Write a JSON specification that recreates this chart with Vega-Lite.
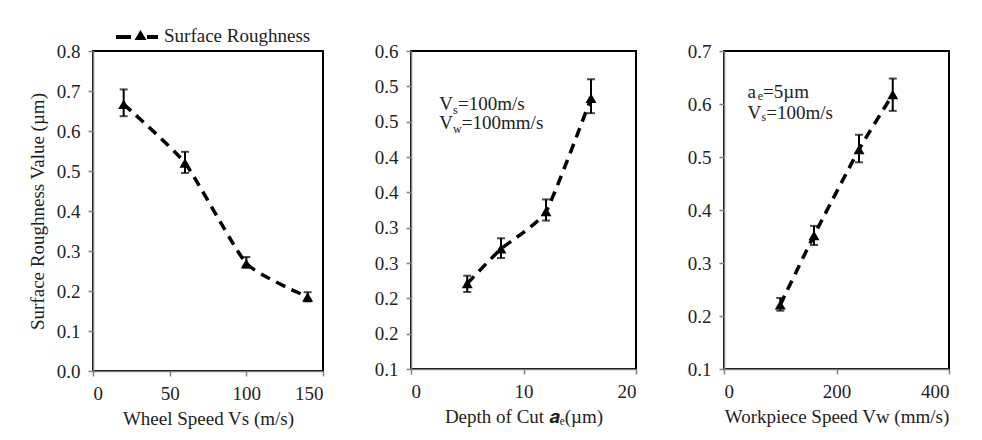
{
  "$schema": "https://vega.github.io/schema/vega-lite/v6.json",
  "background": "white",
  "padding": {"left": 27, "top": 26, "right": 5, "bottom": 5},
  "bounds": "flush",
  "spacing": 88,
  "datasets": {
    "vs": [
      {"x": 20, "v": 0.667, "lo": 0.637, "hi": 0.704},
      {"x": 60, "v": 0.52, "lo": 0.495, "hi": 0.548},
      {"x": 100, "v": 0.269, "lo": 0.258, "hi": 0.285},
      {"x": 140, "v": 0.185, "lo": 0.174, "hi": 0.197}
    ],
    "ae": [
      {"x": 5, "v": 0.221, "lo": 0.209, "hi": 0.232},
      {"x": 8, "v": 0.27, "lo": 0.257, "hi": 0.285},
      {"x": 12, "v": 0.323, "lo": 0.31, "hi": 0.34},
      {"x": 16, "v": 0.483, "lo": 0.462, "hi": 0.51}
    ],
    "vw": [
      {"x": 100, "v": 0.221, "lo": 0.21, "hi": 0.234},
      {"x": 160, "v": 0.352, "lo": 0.334, "hi": 0.37},
      {"x": 240, "v": 0.514, "lo": 0.49, "hi": 0.542},
      {"x": 300, "v": 0.618, "lo": 0.587, "hi": 0.648}
    ],
    "note2main": [
      {"x": 2.51, "v": 0.467, "t": "V"},
      {"x": 4.17, "v": 0.467, "t": "=100m/s"},
      {"x": 2.51, "v": 0.439, "t": "V"},
      {"x": 4.52, "v": 0.439, "t": "=100mm/s"}
    ],
    "note2sub": [
      {"x": 3.73, "v": 0.467, "t": "s"},
      {"x": 3.73, "v": 0.439, "t": "w"}
    ],
    "note3main": [
      {"x": 41.6, "v": 0.612, "t": "a"},
      {"x": 69.5, "v": 0.612, "t": "=5µm"},
      {"x": 41.6, "v": 0.571, "t": "V"},
      {"x": 75, "v": 0.571, "t": "=100m/s"}
    ],
    "note3sub": [
      {"x": 60, "v": 0.612, "t": "e"},
      {"x": 66.5, "v": 0.571, "t": "s"}
    ]
  },
  "hconcat": [
    {
      "width": 230,
      "height": 320,
      "data": {"name": "vs"},
      "encoding": {
        "x": {"field": "x", "type": "quantitative", "scale": {"domain": [0, 150]}, "axis": {"values": [0, 50, 100, 150], "title": "Wheel Speed Vs (m/s)"}},
        "y": {"field": "v", "type": "quantitative", "scale": {"domain": [0, 0.8]}, "axis": {"values": [0, 0.1, 0.2, 0.3, 0.4, 0.5, 0.6, 0.7, 0.8], "format": ".1f", "title": "Surface Roughness Value (µm)"}}
      },
      "layer": [
        {
          "mark": {"type": "line", "color": "black", "strokeWidth": 3.5, "strokeDash": [10, 7], "interpolate": "cardinal", "tension": 0.5}
        },
        {
          "mark": {"type": "errorbar", "color": "black", "thickness": 2, "size": 8, "ticks": true},
          "encoding": {"y": {"field": "lo", "type": "quantitative", "scale": {"domain": [0, 0.8]}, "axis": {"values": [0, 0.1, 0.2, 0.3, 0.4, 0.5, 0.6, 0.7, 0.8], "format": ".1f", "title": "Surface Roughness Value (µm)"}}, "y2": {"field": "hi"}}
        },
        {
          "mark": {"type": "point", "shape": "triangle-up", "filled": true, "size": 120, "opacity": 1},
          "encoding": {
            "color": {"datum": "Surface Roughness", "type": "nominal", "scale": {"range": ["black"]},
              "legend": {"orient": "none", "legendX": 38, "legendY": -25, "title": null, "padding": 0,
                "symbolType": "M-4.9,-0.1H-1.9V0.7H-4.9Z M-1.2,0.9L0,-1.1L1.2,0.9Z M1.3,-0.1H3.5V0.7H1.3Z",
                "symbolSize": 100, "symbolFillColor": "black", "symbolStrokeWidth": 0, "symbolOpacity": 1,
                "labelFont": "Liberation Serif", "labelFontSize": 19, "labelColor": "#222", "labelOffset": 14}}
          }
        }
      ]
    },
    {
      "width": 225,
      "height": 318,
      "encoding": {
        "x": {"field": "x", "type": "quantitative", "scale": {"domain": [0, 20]}, "axis": {"values": [0, 10, 20], "title": "Depth of Cut 𝒂ₑ(µm)"}},
        "y": {"field": "v", "type": "quantitative", "scale": {"domain": [0.1, 0.55]}, "axis": {"values": [0.1, 0.15, 0.2, 0.25, 0.3, 0.35, 0.4, 0.45, 0.5, 0.55], "labelExpr": "format(datum.value + 0.001, '.1f')", "title": null}}
      },
      "layer": [
        {"data": {"name": "ae"}, "mark": {"type": "line", "color": "black", "strokeWidth": 3.5, "strokeDash": [10, 7], "interpolate": "cardinal", "tension": 0.5}},
        {"data": {"name": "ae"}, "mark": {"type": "errorbar", "color": "black", "thickness": 2, "size": 8, "ticks": true},
          "encoding": {"y": {"field": "lo", "type": "quantitative", "scale": {"domain": [0.1, 0.55]}, "axis": {"values": [0.1, 0.15, 0.2, 0.25, 0.3, 0.35, 0.4, 0.45, 0.5, 0.55], "labelExpr": "format(datum.value + 0.001, '.1f')", "title": null}}, "y2": {"field": "hi"}}},
        {"data": {"name": "ae"}, "mark": {"type": "point", "shape": "triangle-up", "filled": true, "size": 120, "opacity": 1, "color": "black"}},
        {"data": {"name": "note2main"}, "mark": {"type": "text", "align": "left", "baseline": "alphabetic", "font": "Liberation Serif", "fontSize": 19, "color": "#222"}, "encoding": {"text": {"field": "t"}}},
        {"data": {"name": "note2sub"}, "mark": {"type": "text", "align": "left", "baseline": "alphabetic", "font": "Liberation Serif", "fontSize": 12, "dy": 4, "color": "#222"}, "encoding": {"text": {"field": "t"}}}
      ]
    },
    {
      "width": 225,
      "height": 318,
      "encoding": {
        "x": {"field": "x", "type": "quantitative", "scale": {"domain": [0, 400]}, "axis": {"values": [0, 200, 400], "title": "Workpiece Speed Vw (mm/s)"}},
        "y": {"field": "v", "type": "quantitative", "scale": {"domain": [0.1, 0.7]}, "axis": {"values": [0.1, 0.2, 0.3, 0.4, 0.5, 0.6, 0.7], "format": ".1f", "title": null}}
      },
      "layer": [
        {"data": {"name": "vw"}, "mark": {"type": "line", "color": "black", "strokeWidth": 3.5, "strokeDash": [10, 7], "interpolate": "cardinal", "tension": 0.5}},
        {"data": {"name": "vw"}, "mark": {"type": "errorbar", "color": "black", "thickness": 2, "size": 8, "ticks": true},
          "encoding": {"y": {"field": "lo", "type": "quantitative", "scale": {"domain": [0.1, 0.7]}, "axis": {"values": [0.1, 0.2, 0.3, 0.4, 0.5, 0.6, 0.7], "format": ".1f", "title": null}}, "y2": {"field": "hi"}}},
        {"data": {"name": "vw"}, "mark": {"type": "point", "shape": "triangle-up", "filled": true, "size": 120, "opacity": 1, "color": "black"}},
        {"data": {"name": "note3main"}, "mark": {"type": "text", "align": "left", "baseline": "alphabetic", "font": "Liberation Serif", "fontSize": 19, "color": "#222"}, "encoding": {"text": {"field": "t"}}},
        {"data": {"name": "note3sub"}, "mark": {"type": "text", "align": "left", "baseline": "alphabetic", "font": "Liberation Serif", "fontSize": 12, "dy": 2, "color": "#222"}, "encoding": {"text": {"field": "t"}}}
      ]
    }
  ],
  "config": {
    "font": "Liberation Serif",
    "view": {"stroke": "black", "strokeWidth": 2},
    "axis": {
      "grid": false,
      "labelOverlap": false,
      "domainColor": "#808080", "domainWidth": 1.5,
      "tickColor": "#808080", "tickWidth": 1.5, "tickSize": 5,
      "labelFont": "Liberation Serif", "labelFontSize": 19, "labelColor": "#222", "labelPadding": 6,
      "titleFont": "Liberation Serif", "titleFontSize": 19, "titleFontWeight": "normal", "titleColor": "#222"
    },
    "axisY": {"labelPadding": 8, "titlePadding": 9},
    "axisX": {"labelPadding": 8, "titlePadding": 6}
  }
}
